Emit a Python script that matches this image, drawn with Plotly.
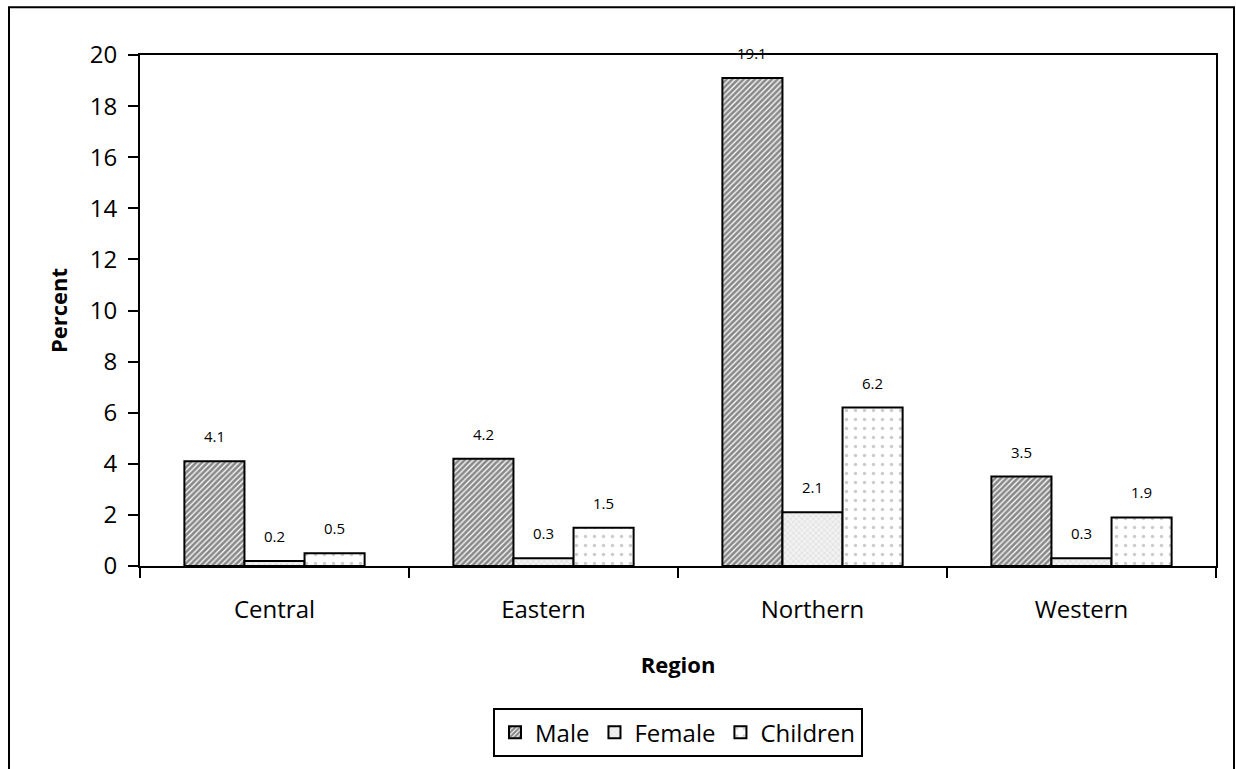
import plotly.graph_objects as go

regions = ["Central", "Eastern", "Northern", "Western"]
male = [4.1, 4.2, 19.1, 3.5]
female = [0.2, 0.3, 2.1, 0.3]
children = [0.5, 1.5, 6.2, 1.9]
series_names = ["Male", "Female", "Children"]
y_ticks = [0, 2, 4, 6, 8, 10, 12, 14, 16, 18, 20]

W, H = 1236, 769
ML, MR, MT, MB = 140, 20, 55, 201
plot_w = W - ML - MR
plot_h = H - MT - MB
bargap = 0.33
bar_px = plot_w / len(regions) * (1 - bargap) / 3

FONT = "'Open Sans', Lato, sans-serif"

patterns = [
    dict(shape="/", bgcolor="white", fgcolor="#111111", size=4, solidity=0.68),
    dict(shape="x", bgcolor="#f2f2f2", fgcolor="#c0c0c0", size=4, solidity=0.3),
    dict(shape=".", bgcolor="white", fgcolor="#9a9a9a", size=9, solidity=0.12),
]

fig = go.Figure()
all_vals = [male, female, children]
for name, vals, pat in zip(series_names, all_vals, patterns):
    fig.add_trace(go.Bar(
        x=regions, y=vals, name=name,
        marker=dict(color="white", pattern=pat, line=dict(color="black", width=2)),
    ))

annotations = []
for i, vals in enumerate(all_vals):
    for r, v in zip(regions, vals):
        annotations.append(dict(
            x=r, y=v, xref="x", yref="y", text=f"{v:.1f}", showarrow=False,
            xshift=(i - 1) * bar_px, yshift=13, yanchor="bottom",
            font=dict(family=FONT, size=15, color="black"),
        ))

fig.update_layout(
    width=W, height=H,
    margin=dict(l=ML, r=MR, t=MT, b=MB),
    paper_bgcolor="white", plot_bgcolor="white",
    barmode="group", bargap=bargap, bargroupgap=0,
    font=dict(family=FONT, size=22, color="black"),
    annotations=annotations,
    legend=dict(
        orientation="h", x=0.5, xanchor="center", y=-0.278, yanchor="top",
        bordercolor="black", borderwidth=2, font=dict(size=24, family=FONT),
        itemwidth=30, tracegroupgap=0,
    ),
    shapes=[dict(type="rect", xref="paper", yref="paper",
                 x0=(9 - ML) / plot_w, x1=(1234 - ML) / plot_w,
                 y0=-0.6, y1=(H - MB - 7) / plot_h,
                 line=dict(color="black", width=2), layer="below")],
)

fig.update_xaxes(
    showline=True, linecolor="black", linewidth=2, mirror=True,
    ticks="outside", tickson="boundaries", ticklen=10, tickwidth=2, tickcolor="black",
    ticklabelstandoff=21, tickfont=dict(size=24),
    title=dict(text="<b>Region</b>", font=dict(size=22), standoff=34),
    showgrid=False,
)
fig.update_yaxes(
    range=[0, 20], tickvals=y_ticks,
    showline=True, linecolor="black", linewidth=2, mirror=True,
    ticks="outside", ticklen=10, tickwidth=2, tickcolor="black",
    ticklabelstandoff=6, tickfont=dict(size=24),
    title=dict(text="<b>Percent</b>", font=dict(size=22), standoff=16),
    showgrid=False, zeroline=False,
)

fig.write_html("out.html", config={"displayModeBar": False},
               post_script="document.body.style.margin='0px';")
